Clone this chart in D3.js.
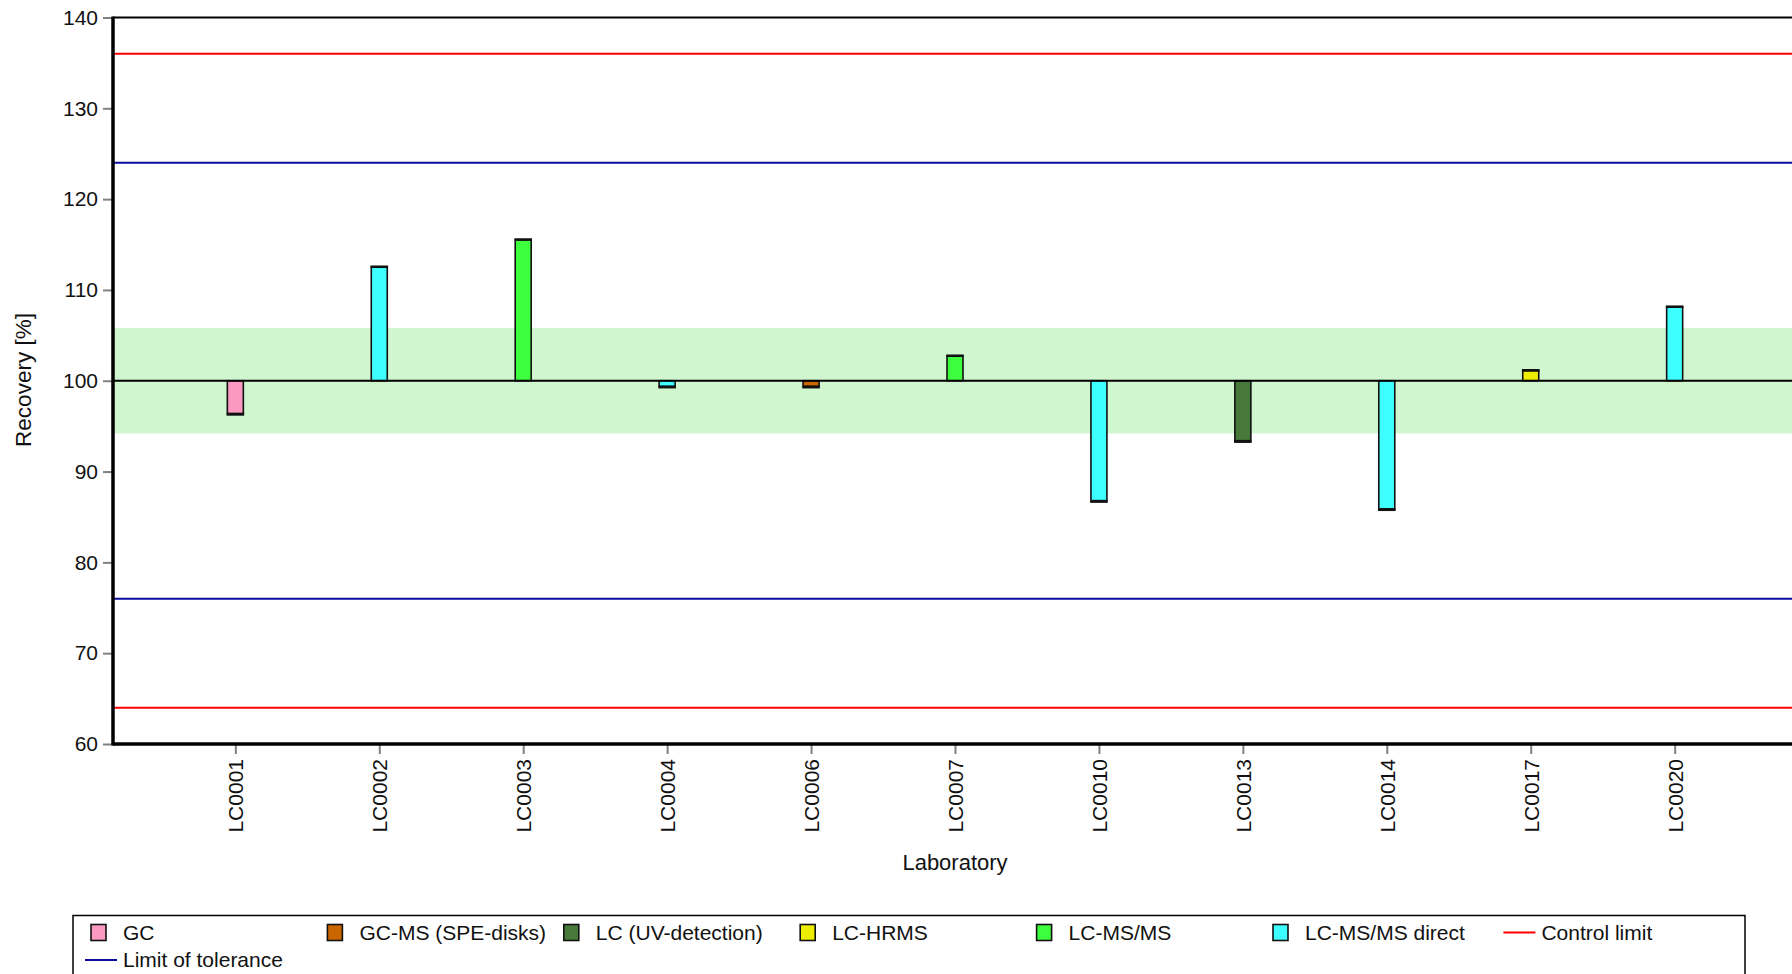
<!DOCTYPE html>
<html>
<head>
<meta charset="utf-8">
<script src="https://cdn.jsdelivr.net/npm/d3@7"></script>
<style>
    body { margin: 0; background: #fff; }
    svg { display: block; font-family: "Liberation Sans", Arial, sans-serif; }
</style>
</head>
<body>
<svg id="chart"></svg>
<script>
// lab results (recovery in %)
const labs = ['LC0001', 'LC0002', 'LC0003', 'LC0004', 'LC0006', 'LC0007', 'LC0010', 'LC0013', 'LC0014', 'LC0017', 'LC0020'];
const recovery = [96.4, 112.5, 115.5, 99.4, 99.4, 102.7, 86.8, 93.4, 85.9, 101.1, 108.1];
const methods = ['GC', 'LC-MS/MS direct', 'LC-MS/MS', 'LC-MS/MS direct', 'GC-MS (SPE-disks)', 'LC-MS/MS', 'LC-MS/MS direct', 'LC (UV-detection)', 'LC-MS/MS direct', 'LC-HRMS', 'LC-MS/MS direct'];

const methodNames = ['GC', 'GC-MS (SPE-disks)', 'LC (UV-detection)', 'LC-HRMS', 'LC-MS/MS', 'LC-MS/MS direct'];
const methodColors = ['#fb99c0', '#cc6600', '#477a3a', '#eeee00', '#3eff3e', '#3effff'];

const yTicks = [60, 70, 80, 90, 100, 110, 120, 130, 140];
const refValue = 100;
const bandLimits = [94.2, 105.8];     // green band
const toleranceLimits = [76, 124];    // blue
const controlLimits = [64, 136];      // red

const width = 1792;
const height = 974;
const plot = { left: 113, right: 1797, top: 17.5, bottom: 744 };

const svg = d3.select('#chart').attr('width', width).attr('height', height);

const x = d3.scalePoint().domain(labs).range([plot.left, plot.right]).padding(0.85);
const y = d3.scaleLinear().domain([60, 140]).range([plot.bottom, plot.top]);
const color = d3.scaleOrdinal().domain(methodNames).range(methodColors);

// green band around reference
svg.append('rect')
    .attr('x', plot.left)
    .attr('y', y(bandLimits[1]))
    .attr('width', plot.right - plot.left)
    .attr('height', y(bandLimits[0]) - y(bandLimits[1]))
    .attr('fill', '#cff6cf');

// limit lines
function hline(v, col, w) {
    svg.append('line')
        .attr('x1', plot.left).attr('x2', plot.right)
        .attr('y1', y(v)).attr('y2', y(v))
        .attr('stroke', col).attr('stroke-width', w);
}
controlLimits.forEach(v => hline(v, '#ff0000', 2));
toleranceLimits.forEach(v => hline(v, '#0a0aa0', 2));

// bars
const bw = 16;
const bars = svg.append('g');
labs.forEach((lab, i) => {
    const v = recovery[i];
    const cx = x(lab);
    const y0 = y(refValue), y1 = y(v);
    bars.append('rect')
        .attr('x', cx - bw / 2)
        .attr('y', Math.min(y0, y1))
        .attr('width', bw)
        .attr('height', Math.abs(y1 - y0))
        .attr('fill', color(methods[i]))
        .attr('stroke', '#111')
        .attr('stroke-width', 1.6);
    // thick end marker at value
    bars.append('line')
        .attr('x1', cx - bw / 2 - 0.8).attr('x2', cx + bw / 2 + 0.8)
        .attr('y1', y1 + (v < refValue ? 1 : -0.5)).attr('y2', y1 + (v < refValue ? 1 : -0.5))
        .attr('stroke', '#111').attr('stroke-width', 2.5);
});

// reference line
hline(refValue, '#000', 2);

// top frame
hline(140, '#000', 2);

// axes
const yAxis = svg.append('g')
    .attr('transform', `translate(${plot.left},0)`)
    .call(d3.axisLeft(y).tickValues(yTicks).tickSize(10).tickPadding(5));
const xAxis = svg.append('g')
    .attr('transform', `translate(0,${plot.bottom})`)
    .call(d3.axisBottom(x).tickSize(10).tickPadding(5));

[yAxis, xAxis].forEach(g => {
    g.select('.domain').remove();
    g.selectAll('.tick line').attr('stroke', '#808080').attr('stroke-width', 2);
    g.selectAll('.tick text').attr('font-size', 21).attr('fill', '#111').attr('font-family', '"Liberation Sans", Arial, sans-serif');
});

xAxis.selectAll('.tick text')
    .attr('transform', 'rotate(-90)')
    .attr('text-anchor', 'end')
    .attr('x', -15)
    .attr('y', 0)
    .attr('dy', '0.35em');

// thick axis lines
svg.append('line')
    .attr('x1', plot.left).attr('x2', plot.left)
    .attr('y1', plot.top - 1).attr('y2', plot.bottom + 1.5)
    .attr('stroke', '#000').attr('stroke-width', 3.5);
svg.append('line')
    .attr('x1', plot.left).attr('x2', plot.right)
    .attr('y1', plot.bottom).attr('y2', plot.bottom)
    .attr('stroke', '#000').attr('stroke-width', 3.5);

// axis titles
svg.append('text')
    .attr('transform', `translate(31,380) rotate(-90)`)
    .attr('text-anchor', 'middle')
    .attr('font-size', 22.5)
    .attr('fill', '#111')
    .text('Recovery [%]');
svg.append('text')
    .attr('x', 955).attr('y', 870)
    .attr('text-anchor', 'middle')
    .attr('font-size', 22)
    .attr('fill', '#111')
    .text('Laboratory');

// legend
const legend = svg.append('g');
legend.append('rect')
    .attr('x', 73).attr('y', 915.5)
    .attr('width', 1672).attr('height', 90)
    .attr('fill', 'none').attr('stroke', '#000').attr('stroke-width', 1.5);

const legendItems = methodNames.map((m, i) => ({ name: m, type: 'box', color: methodColors[i] }))
    .concat([
        { name: 'Control limit', type: 'line', color: '#ff0000' },
        { name: 'Limit of tolerance', type: 'line', color: '#0a0aa0' }
    ]);

const colW = 236.4;
legendItems.forEach((d, i) => {
    const col = i % 7, row = Math.floor(i / 7);
    const cx = 85 + col * colW;
    const cy = 932.5 + row * 27.5;
    const g = legend.append('g');
    if (d.type === 'box') {
        g.append('rect')
            .attr('x', cx + 6).attr('y', cy - 8)
            .attr('width', 15).attr('height', 16)
            .attr('fill', d.color).attr('stroke', '#111').attr('stroke-width', 1.6);
    } else {
        g.append('line')
            .attr('x1', cx).attr('x2', cx + 32)
            .attr('y1', cy).attr('y2', cy)
            .attr('stroke', d.color).attr('stroke-width', 2);
    }
    g.append('text')
        .attr('x', cx + 38).attr('y', cy)
        .attr('dy', '0.35em')
        .attr('font-size', 21)
        .attr('fill', '#111')
        .text(d.name);
});
</script>
</body>
</html>
